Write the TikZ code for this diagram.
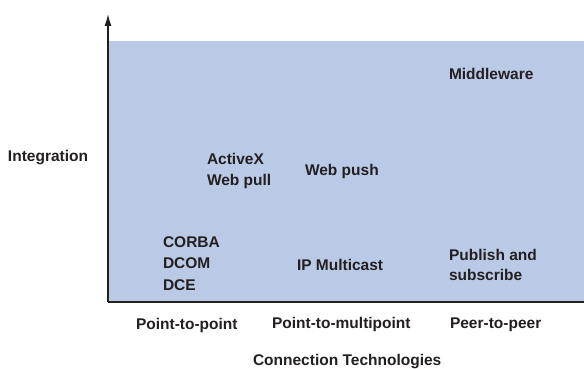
\documentclass[tikz,border=0pt]{standalone}
\usepackage{fontspec}
\setmainfont{Liberation Sans}
\usetikzlibrary{arrows.meta}
\definecolor{panel}{HTML}{BACAE6}
\definecolor{ink}{HTML}{231F20}
\tikzset{
  lbl/.style={anchor=base west, inner sep=0pt, outer sep=0pt, text=ink,
    font=\bfseries\fontsize{15.5}{21}\selectfont, align=left},
  axis/.style={draw=ink, line width=1.3pt},
}
\begin{document}
\begin{tikzpicture}[x=1pt, y=-1pt]
  \useasboundingbox (0,0) rectangle (584,369);
  \fill[panel] (108,41) rectangle (584,302);
  \coordinate (origin) at (108,302);
  \coordinate (ytip) at (108,14);
  \coordinate (xend) at (584,302);
  \draw[axis, -{Latex[length=12pt, width=7pt]}] (origin) -- (ytip);
  \draw[axis] (origin) -- (xend);

  \node[lbl] (integ) at (8,161.5) {Integration};
  \node[lbl] (mid) at (449,80) {Middleware};
  \node[lbl] (activex) at (207,185) {ActiveX\\Web pull};
  \node[lbl] (webpush) at (305,175) {Web push};
  \node[lbl, font=\bfseries\fontsize{15.5}{21.5}\selectfont] (corba) at (163,290) {CORBA\\DCOM\\DCE};
  \node[lbl] (ipm) at (297,270) {IP Multicast};
  \node[lbl, font=\bfseries\fontsize{15.5}{20}\selectfont] (pubsub) at (449,280) {Publish and\\subscribe};
  \node[lbl] (p2p) at (136,329) {Point-to-point};
  \node[lbl] (p2mp) at (272,328) {Point-to-multipoint};
  \node[lbl] (peer) at (450,328) {Peer-to-peer};
  \node[lbl] (conn) at (253,365) {Connection Technologies};
\end{tikzpicture}
\end{document}
